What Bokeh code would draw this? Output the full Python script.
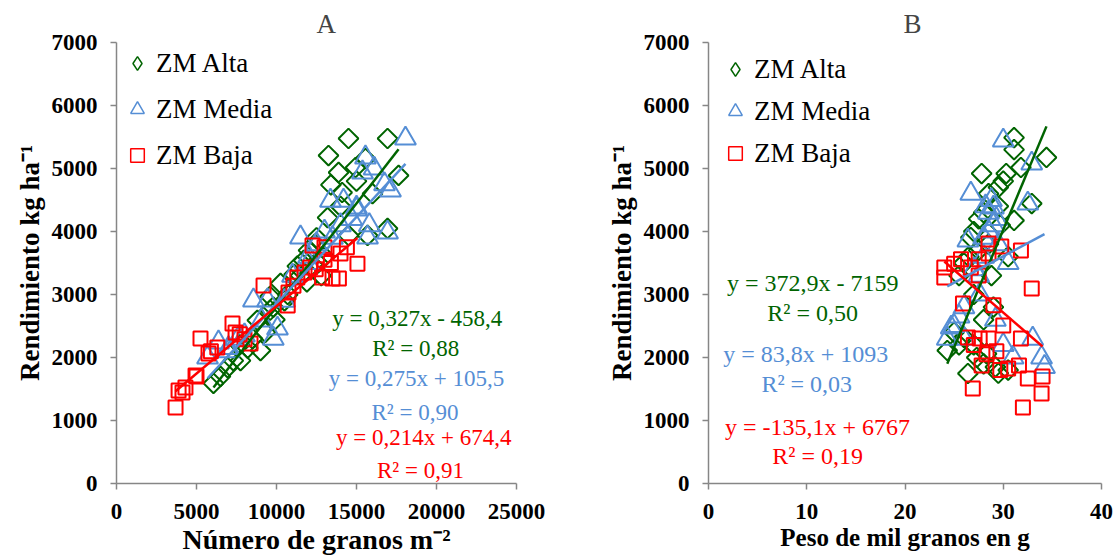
from bokeh.plotting import figure
from bokeh.layouts import row
from bokeh.models import Legend, LegendItem, FixedTicker, Label, ColumnDataSource
from bokeh.embed import file_html
from bokeh.resources import INLINE
import numpy as np

# ---------------- data ----------------
series_names = ["ZM Alta", "ZM Media", "ZM Baja"]

# Panel A: Número de granos m-2 vs Rendimiento
a_alta_x = [6060, 6500, 6940, 7300, 7750, 7700, 8200, 8500, 8800, 9000, 9300, 9600, 9600, 9900,
            10250, 10700, 11100, 11300, 11700, 11900, 12000, 12400, 12600, 12800, 13190, 13400,
            13250, 13880, 14000, 14100, 14500, 14500, 14940, 15000, 15560, 15690, 16000, 16940,
            16940, 17630, 12500, 13000, 11500, 10500, 9800]
a_alta_y = [1590, 1700, 1840, 1950, 1950, 2200, 2150, 2300, 2590, 2110, 2400, 2750, 2970, 2600,
            3175, 3000, 3320, 3450, 3540, 3200, 3700, 3800, 3500, 3300, 4220, 4740,
            5206, 4937, 4400, 4619, 5476, 3937, 5016, 4800, 5159, 3937, 4600, 4048,
            5476, 4890, 3900, 3600, 3300, 2900, 2800]
a_media_x = [5690, 6375, 7000, 7600, 8560, 9060, 9440, 9800, 10060, 10500, 11500, 12000, 12500,
             13000, 13375, 14000, 14190, 14700, 15000, 15000, 15375, 15560, 15690, 15800, 16100,
             16750, 16940, 17125, 18060, 11000, 12000, 13500, 8000, 7000]
a_media_y = [2000, 2240, 2150, 2300, 2905, 2590, 2905, 2300, 2460, 2900, 3905, 3600, 3800,
             4000, 4490, 4100, 4490, 4200, 4350, 4380, 4937, 5175, 3905, 4100, 5000,
             4750, 3984, 4650, 5476, 3300, 3500, 3900, 2350, 2100]
a_baja_x = [3690, 3880, 4125, 4310, 4940, 5000, 5250, 5750, 5900, 6300, 7250, 7440, 7700, 8000,
            8375, 9190, 10700, 10750, 11060, 11300, 11750, 12100, 12250, 12450, 12850, 13000,
            13000, 13400, 13500, 13900, 14000, 14400, 15060]
a_baja_y = [1206, 1476, 1444, 1524, 1714, 1700, 2302, 2063, 2100, 2159, 2540, 2397, 2370, 2290,
            2222, 3143, 2825, 3030, 3140, 3270, 3350, 3429, 3778, 3400, 3270, 3550,
            3750, 3500, 3254, 3254, 3650, 3750, 3490]

# Panel B: Peso de mil granos vs Rendimiento
b_alta_x = [24.3, 26.4, 27.3, 26.0, 29.2, 28.3, 25.5, 26.0, 27.0, 28.0, 29.0, 27.5, 26.7,
            28.0, 29.7, 31.1, 32.9, 29.5, 27.8, 30.3, 31.8, 31.1, 34.4, 31.1, 30.5, 25.0, 28.8,
            27.0, 27.5, 28.5, 29.5, 30.0, 28.5, 27.0, 28.0, 29.5, 30.5, 26.5, 25.5]
b_alta_y = [2111, 1746, 2000, 2320, 1850, 2060, 3300, 3500, 3000, 2600, 2800, 3700, 3905,
            4300, 4100, 4175, 4444, 4700, 4920, 4920, 5016, 5300, 5175, 5490, 3600, 2400, 3300,
            4000, 4200, 4600, 4400, 4800, 3800, 2200, 1900, 1750, 1800, 3600, 2200]
b_media_x = [24.3, 24.7, 25.5, 27.6, 29.2, 33.9, 34.2, 26.4, 28.5, 29.3, 29.0, 28.2, 26.7,
             32.5, 32.9, 30.0, 27.0, 28.0, 30.5, 26.0, 28.5, 29.0, 28.0, 29.5, 28.8, 27.5,
             25.0, 26.0, 30.0, 31.0, 33.0]
b_media_y = [2300, 2476, 2650, 3000, 2600, 2000, 1850, 3857, 4000, 4200, 4380, 4400, 4600,
             4444, 5079, 5444, 3400, 3600, 3500, 2800, 4300, 4100, 3900, 3800, 4500, 3300,
             2500, 2300, 2200, 2000, 2300]
b_baja_x = [24.0, 24.0, 25.0, 25.7, 26.7, 27.5, 28.5, 29.8, 31.8, 32.9, 25.9, 29.0, 30.0, 31.8,
            26.4, 27.0, 27.6, 28.5, 27.8, 30.5, 31.6, 26.9, 32.5, 34.0, 33.9, 32.0, 28.3, 29.3,
            29.7, 28.5, 27.5]
b_baja_y = [3429, 3270, 3490, 3560, 3430, 3560, 3810, 3760, 3698, 3095, 2857, 2830, 2508, 2302,
            2317, 2200, 2300, 2300, 1873, 1825, 1873, 1508, 1667, 1700, 1429, 1206, 2050, 2100,
            1800, 3650, 3300]

# regression coefficients (slope, intercept) and R2 as printed
a_slope = [0.327, 0.275, 0.214]
a_icpt = [-458.4, 105.5, 674.4]
a_eq = ["y = 0,327x - 458,4", "y = 0,275x + 105,5", "y = 0,214x + 674,4"]
a_r2 = ["R² = 0,88", "R² = 0,90", "R² = 0,91"]
b_slope = [372.9, 83.8, -135.1]
b_icpt = [-7159, 1093, 6767]
b_eq = ["y = 372,9x - 7159", "y = 83,8x + 1093", "y = -135,1x + 6767"]
b_r2 = ["R² = 0,50", "R² = 0,03", "R² = 0,19"]

a_xticks = [0, 5000, 10000, 15000, 20000, 25000]
b_xticks = [0, 10, 20, 30, 40]
y_ticks = [0, 1000, 2000, 3000, 4000, 5000, 6000, 7000]

# ---------------- style ----------------
GREEN = "#006400"
BLUE = "#558ED5"
RED = "#FF0000"
COLORS = [GREEN, BLUE, RED]
SERIF = "Liberation Serif"
AXIS_GRAY = "#868686"


def base_fig(width, left, right, xmax, xticks, xlabel, xlabel_size, title, title_offset):
    p = figure(width=width, height=560, x_range=(0, xmax), y_range=(0, 7000),
               output_backend="svg", toolbar_location=None,
               min_border_left=left, min_border_right=right,
               min_border_top=42, min_border_bottom=77)
    p.outline_line_color = None
    p.grid.grid_line_color = None
    p.background_fill_color = "white"
    p.border_fill_color = "white"
    p.title.text = title
    p.title.align = "left"
    p.title.offset = title_offset
    p.title.text_font = SERIF
    p.title.text_font_style = "normal"
    p.title.text_font_size = "27px"
    p.title.standoff = 8
    for ax in (p.xaxis[0], p.yaxis[0]):
        ax.axis_line_color = AXIS_GRAY
        ax.axis_line_width = 1.5
        ax.major_tick_line_color = AXIS_GRAY
        ax.major_tick_line_width = 1.5
        ax.major_tick_in = 0
        ax.major_tick_out = 6
        ax.minor_tick_line_color = None
        ax.major_label_text_font = SERIF
        ax.major_label_text_font_style = "bold"
        ax.major_label_text_font_size = "23px"
        ax.major_label_text_color = "black"
        ax.axis_label_text_font = SERIF
        ax.axis_label_text_font_style = "bold"
        ax.axis_label_text_color = "black"
    p.xaxis[0].axis_label_text_font_size = xlabel_size
    p.yaxis[0].axis_label_text_font_size = "27px"
    p.xaxis[0].ticker = FixedTicker(ticks=xticks)
    p.yaxis[0].ticker = FixedTicker(ticks=y_ticks)
    p.xaxis[0].major_label_standoff = 14
    p.yaxis[0].major_label_standoff = 13
    p.xaxis[0].axis_label = xlabel
    p.yaxis[0].axis_label = "Rendimiento kg ha⁻¹"
    p.xaxis[0].axis_label_standoff = 2
    p.yaxis[0].axis_label_standoff = 4
    return p


def add_series(p, xs_list, ys_list, slopes, icpts, eqs, r2s, eq_pos, eq_size,
               legend_margin, legend_spacing):
    markers = [dict(marker="square", angle=np.pi / 4, size=14, line_width=2),
               dict(marker="triangle", angle=0, size=21, line_width=2),
               dict(marker="square", angle=0, size=14, line_width=2)]
    legend_markers = ["diamond", "triangle", "square"]
    leg_renderers = []
    for xs, ys, col, mk, lm in zip(xs_list, ys_list, COLORS, markers, legend_markers):
        src = ColumnDataSource(data=dict(x=xs, y=ys))
        p.scatter("x", "y", source=src, marker=mk["marker"], angle=mk["angle"], size=mk["size"],
                  line_color=col, line_width=mk["line_width"], fill_color=None)
        # legend swatch renderer: same data, hidden from the plot area
        lr = p.scatter("x", "y", source=src, marker=lm, size=15, line_color=col,
                       line_width=1.5, fill_color=None, visible=False)
        leg_renderers.append(lr)
    # regression lines over the range of each series
    for xs, s, b, col in zip(xs_list, slopes, icpts, COLORS):
        x0, x1 = min(xs), max(xs)
        p.line([x0, x1], [s * x0 + b, s * x1 + b], line_color=col, line_width=2.5)
    # equation labels
    for eq, r2, col, pos in zip(eqs, r2s, COLORS, eq_pos):
        (ex, ey), (rx, ry) = pos
        p.add_layout(Label(x=ex, y=ey, text=eq, text_align="center", text_baseline="middle",
                           text_font=SERIF, text_font_size=eq_size, text_color=col))
        p.add_layout(Label(x=rx, y=ry, text=r2, text_align="center", text_baseline="middle",
                           text_font=SERIF, text_font_size=eq_size, text_color=col))
    legend = Legend(items=[LegendItem(label=n, renderers=[r]) for n, r in zip(series_names, leg_renderers)],
                    location="top_left", glyph_width=34, glyph_height=34,
                    spacing=legend_spacing, label_standoff=2, margin=legend_margin, padding=3,
                    border_line_color=None, background_fill_alpha=0,
                    inactive_fill_alpha=0,
                    label_text_font=SERIF, label_text_font_size="27px", label_text_color="black")
    p.add_layout(legend)


pa = base_fig(556, 116, 40, 25000, a_xticks, "Número de granos m⁻²", "28px", "A", 200)
add_series(pa, [a_alta_x, a_media_x, a_baja_x], [a_alta_y, a_media_y, a_baja_y],
           a_slope, a_icpt, a_eq, a_r2,
           [((18800, 2619), (18700, 2143)),
            ((18750, 1667), (18650, 1127)),
            ((19200, 730), (19000, 206))],
           "23px", 4, 12)

pb = base_fig(557, 152, 12, 40, b_xticks, "Peso de mil granos en g", "25px", "B", 195)
add_series(pb, [b_alta_x, b_media_x, b_baja_x], [b_alta_y, b_media_y, b_baja_y],
           b_slope, b_icpt, b_eq, b_r2,
           [((10.6, 3190), (10.6, 2714)),
            ((9.9, 2063), (10.0, 1587)),
            ((11.1, 889), (11.1, 444))],
           "24px", 10, 8)

layout = row(pa, pb)
open("out.html", "w").write(file_html(layout, INLINE))
